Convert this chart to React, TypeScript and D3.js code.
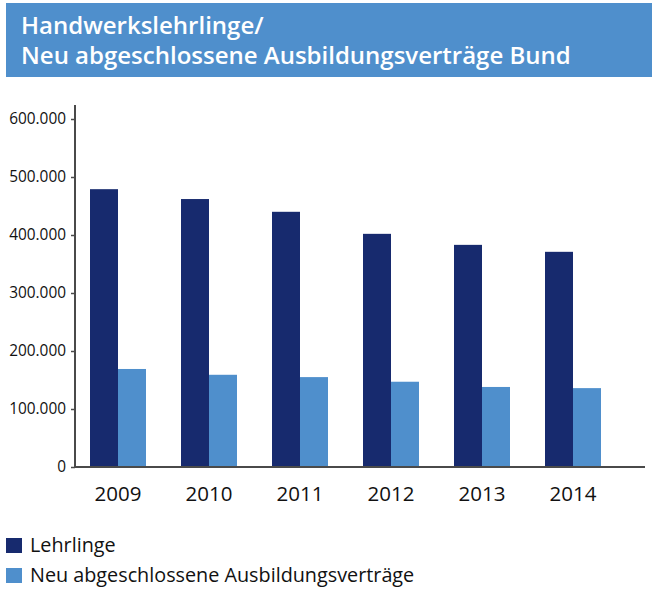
import { useEffect, useRef } from 'react';
import * as d3 from 'd3';

const years = ['2009', '2010', '2011', '2012', '2013', '2014'];
const lehrlinge = [479000, 462000, 440000, 402000, 383000, 371000];
const neueVertraege = [169000, 159000, 155000, 147000, 138000, 136000];
const yTicks = [0, 100000, 200000, 300000, 400000, 500000, 600000];
const seriesNames = ['Lehrlinge', 'Neu abgeschlossene Ausbildungsverträge'];
const titleLines = ['Handwerkslehrlinge/', 'Neu abgeschlossene Ausbildungsverträge Bund'];

const DARK = '#172a6e';
const LIGHT = '#4f8fcc';
const AXIS = '#4a4a4a';
const FONT = '"Open Sans", "Noto Sans", sans-serif';

const App = () => {
  const svgRef = useRef<SVGSVGElement>(null);

  useEffect(() => {
    if (!svgRef.current) return;
    const width = 652;
    const height = 596;

    const svg = d3.select(svgRef.current);
    svg.selectAll('*').remove();
    svg.attr('width', width).attr('height', height);

    // title bar
    svg.append('rect')
      .attr('x', 6).attr('y', 3)
      .attr('width', 646).attr('height', 74)
      .attr('fill', LIGHT);

    svg.append('g')
      .selectAll('text')
      .data(titleLines)
      .enter()
      .append('text')
      .attr('x', 21)
      .attr('y', (d, i) => 34 + i * 30)
      .attr('fill', '#fff')
      .style('font-family', FONT)
      .style('font-weight', 600)
      .style('font-size', '24px')
      .text(d => d);

    const y = d3.scaleLinear().domain([0, 600000]).range([467, 119]);

    const x0 = d3.scaleBand()
      .domain(years)
      .range([72.5, 618.5])
      .paddingInner(35 / 91)
      .paddingOuter(35 / 182);

    const x1 = d3.scaleBand()
      .domain(['a', 'b'])
      .range([0, x0.bandwidth()]);

    const rows = years.map((yr, i) => ({ year: yr, values: [lehrlinge[i], neueVertraege[i]] }));

    const groups = svg.append('g')
      .selectAll('g')
      .data(rows)
      .enter()
      .append('g')
      .attr('transform', d => `translate(${x0(d.year)},0)`);

    groups.selectAll('rect')
      .data(d => d.values)
      .enter()
      .append('rect')
      .attr('x', (d, i) => x1(i === 0 ? 'a' : 'b'))
      .attr('y', d => y(d))
      .attr('width', x1.bandwidth())
      .attr('height', d => y(0) - y(d))
      .attr('fill', (d, i) => (i === 0 ? DARK : LIGHT));

    // y axis
    const yAxis = svg.append('g')
      .attr('transform', 'translate(75,0)')
      .call(d3.axisLeft(y)
        .tickValues(yTicks)
        .tickSize(4)
        .tickPadding(5)
        .tickFormat(d => d3.format(',')(d as number).replace(/,/g, '.')));
    yAxis.select('.domain').remove();
    yAxis.selectAll('line').attr('stroke', AXIS).attr('stroke-width', 1.5);
    yAxis.selectAll('text')
      .style('font-family', FONT)
      .style('font-size', '15.4px')
      .attr('fill', '#111');

    svg.append('line')
      .attr('x1', 75).attr('x2', 75)
      .attr('y1', 105).attr('y2', y(0) + 1)
      .attr('stroke', AXIS).attr('stroke-width', 2);

    svg.append('line')
      .attr('x1', 74).attr('x2', 645)
      .attr('y1', y(0)).attr('y2', y(0))
      .attr('stroke', AXIS).attr('stroke-width', 2);

    // year labels
    svg.append('g')
      .selectAll('text')
      .data(years)
      .enter()
      .append('text')
      .attr('x', d => (x0(d) as number) + x0.bandwidth() / 2)
      .attr('y', 501)
      .attr('text-anchor', 'middle')
      .attr('fill', '#111')
      .style('font-family', FONT)
      .style('font-size', '20.5px')
      .text(d => d);

    // legend
    const legend = svg.append('g')
      .selectAll('g')
      .data(seriesNames)
      .enter()
      .append('g')
      .attr('transform', (d, i) => `translate(6,${538 + i * 30})`);

    legend.append('rect')
      .attr('width', 16).attr('height', 15)
      .attr('fill', (d, i) => (i === 0 ? DARK : LIGHT));

    legend.append('text')
      .attr('x', 24)
      .attr('y', 14)
      .attr('fill', '#111')
      .style('font-family', FONT)
      .style('font-size', '19.8px')
      .text(d => d);
  }, []);

  return (
    <div style={{ position: 'absolute', left: 0, top: 0, background: '#fff' }}>
      <svg ref={svgRef} style={{ display: 'block' }}></svg>
    </div>
  );
};

export default App;
